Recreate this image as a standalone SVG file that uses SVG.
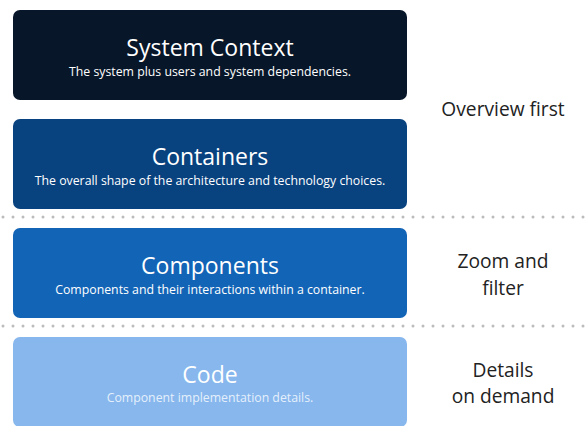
<svg xmlns="http://www.w3.org/2000/svg" width="587" height="426" viewBox="0 0 587 426">
  <style>
    .box { stroke: none; }
    .title { font-family: "Open Sans", "Noto Sans", sans-serif; font-size: 23px; fill: #ffffff; text-anchor: middle; }
    .sub { font-family: "Open Sans", "Noto Sans", sans-serif; font-size: 12.3px; fill: #ffffff; text-anchor: middle; }
    .side { font-family: "Open Sans", "Noto Sans", sans-serif; font-size: 19.2px; fill: #222222; text-anchor: middle; }
    .sep { stroke: #bcbcbc; stroke-width: 3; stroke-linecap: round; stroke-dasharray: 0 10; fill: none; }
  </style>
  <rect width="587" height="426" fill="#ffffff"/>

  <g id="context">
    <rect class="box" x="13" y="10" width="394" height="90" rx="7" fill="#071629"/>
    <text class="title" x="210" y="56">System Context</text>
    <text class="sub" x="210" y="76">The system plus users and system dependencies.</text>
  </g>

  <g id="containers">
    <rect class="box" x="13" y="119" width="394" height="90" rx="7" fill="#08427f"/>
    <text class="title" x="210" y="165">Containers</text>
    <text class="sub" x="210" y="185">The overall shape of the architecture and technology choices.</text>
  </g>

  <g id="components">
    <rect class="box" x="13" y="228" width="394" height="90" rx="7" fill="#1264b6"/>
    <text class="title" x="210" y="274">Components</text>
    <text class="sub" x="210" y="294">Components and their interactions within a container.</text>
  </g>

  <g id="code">
    <rect class="box" x="13" y="337" width="394" height="90" rx="7" fill="#87b7ed"/>
    <text class="title" x="210" y="383">Code</text>
    <text class="sub" x="210" y="402" fill-opacity="0.8">Component implementation details.</text>
  </g>

  <g id="separators">
    <line class="sep" x1="3" y1="217" x2="587" y2="217"/>
    <line class="sep" x1="3" y1="326" x2="587" y2="326"/>
  </g>

  <g id="labels">
    <text class="side" x="503" y="116">Overview first</text>
    <text class="side" x="503" y="268">Zoom and</text>
    <text class="side" x="503" y="295">filter</text>
    <text class="side" x="503" y="377">Details</text>
    <text class="side" x="503" y="403">on demand</text>
  </g>
</svg>
